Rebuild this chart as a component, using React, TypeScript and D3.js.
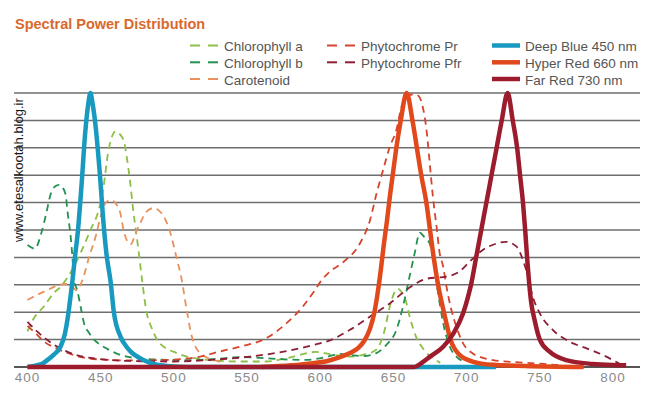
import React, { useEffect, useRef } from "react";
import * as d3 from "d3";

type Pt = [number, number];

// wavelength (nm), relative power
const chlorophyllA: Pt[] = [
  [400, 0.13], [404, 0.175], [411, 0.22], [418, 0.27], [423, 0.295], [430, 0.35],
  [437, 0.425], [443, 0.5], [449, 0.58], [452, 0.66], [455, 0.78], [458, 0.845],
  [460, 0.86], [463, 0.85], [466, 0.82], [468, 0.76], [470, 0.68], [472.5, 0.56],
  [475.5, 0.44], [478, 0.33], [481, 0.21], [485, 0.14], [488, 0.105], [494, 0.07],
  [500, 0.055], [509, 0.038], [520, 0.028], [545, 0.02], [563, 0.02], [577, 0.032],
  [586, 0.044], [597, 0.055], [608, 0.045], [620, 0.038], [629, 0.044], [638, 0.062],
  [644, 0.135], [647.5, 0.22], [651, 0.275], [653, 0.285], [656, 0.27], [658, 0.25],
  [661, 0.185], [665.5, 0.11], [671, 0.062], [677, 0.032], [682, 0.015],
];

const chlorophyllB: Pt[] = [
  [400, 0.445], [405, 0.432], [409.5, 0.49], [413, 0.565], [415.5, 0.625], [419, 0.66],
  [421.5, 0.665], [424, 0.655], [426, 0.63], [427.5, 0.56], [429.5, 0.475], [430.7, 0.4],
  [431.8, 0.317], [434, 0.28], [436.3, 0.22], [438.6, 0.16], [442, 0.125], [445.5, 0.1],
  [450, 0.08], [454.5, 0.066], [463.5, 0.044], [475, 0.032], [490, 0.027], [511, 0.025],
  [530, 0.03], [545, 0.036], [560, 0.033], [575, 0.028], [590, 0.026], [604, 0.036],
  [613, 0.048], [620, 0.044], [629, 0.04], [638, 0.05], [645, 0.08], [652, 0.135],
  [656.5, 0.22], [661, 0.33], [664.5, 0.415], [668, 0.49], [671, 0.475], [674.8, 0.45],
  [678, 0.366], [680.5, 0.27], [684, 0.16], [688.5, 0.074], [693, 0.038], [698, 0.02],
];

const carotenoid: Pt[] = [
  [400, 0.245], [406.5, 0.263], [416, 0.287], [421.5, 0.3], [427, 0.303], [431, 0.29],
  [433.5, 0.28], [437.5, 0.317], [442, 0.4], [446.5, 0.475], [450, 0.55], [453.5, 0.6],
  [457, 0.61], [460.5, 0.595], [463.5, 0.56], [466, 0.49], [470.5, 0.448], [474, 0.49],
  [477, 0.525], [481, 0.565], [486, 0.58], [490, 0.57], [493, 0.55], [497, 0.5],
  [502, 0.395], [505.3, 0.32], [508.7, 0.21], [512, 0.117], [518, 0.05], [527, 0.026],
  [535, 0.015],
];

const phytochromePr: Pt[] = [
  [400, 0.15], [406.5, 0.118], [412, 0.09], [418, 0.072], [427, 0.052], [436, 0.037],
  [448, 0.028], [470, 0.024], [490, 0.025], [500, 0.027], [518, 0.038], [531, 0.056],
  [545, 0.074], [563, 0.105], [577, 0.16], [588, 0.22], [595, 0.27], [601, 0.317],
  [606, 0.345], [616, 0.384], [627, 0.45], [634, 0.536], [638.5, 0.634], [643, 0.72],
  [647.5, 0.804], [652, 0.865], [655.5, 0.95], [660, 0.99], [664, 0.995], [667, 0.99],
  [670, 0.95], [672.6, 0.865], [674.8, 0.743], [677, 0.62], [679.5, 0.51], [681.6, 0.415],
  [684, 0.366], [686, 0.3], [689.6, 0.208], [693, 0.147], [697.6, 0.086], [704, 0.05],
  [710, 0.035], [718, 0.025], [732, 0.018], [750, 0.012], [765, 0.006],
];

const phytochromePfr: Pt[] = [
  [400, 0.165], [406.5, 0.13], [412, 0.105], [418, 0.082], [427, 0.056], [436, 0.04],
  [447.5, 0.03], [470, 0.022], [500, 0.02], [522, 0.025], [552, 0.038], [575, 0.056],
  [595, 0.08], [607, 0.098], [620, 0.135], [634, 0.184], [647.5, 0.232], [661, 0.29],
  [672.6, 0.322], [686, 0.33], [695, 0.348], [702, 0.384], [711, 0.427], [720, 0.45],
  [727, 0.457], [734, 0.44], [738.5, 0.39], [740, 0.366], [742, 0.33], [744, 0.28],
  [750, 0.196], [759, 0.135], [770.5, 0.092], [782, 0.068], [793, 0.044], [802, 0.019],
  [806, 0.008],
];

const deepBlue: Pt[] = [
  [400, 0], [406, 0.006], [410, 0.012], [413.5, 0.025], [418, 0.045], [422.5, 0.074],
  [425.5, 0.12], [427.5, 0.18], [429, 0.24], [430.6, 0.31], [432.4, 0.4], [434.5, 0.5],
  [437, 0.67], [439.5, 0.86], [441.5, 0.96], [443, 1.0], [444.5, 0.96], [446.5, 0.88],
  [449.5, 0.7], [452, 0.52], [454, 0.41], [456.8, 0.31], [459, 0.2], [463.6, 0.11],
  [467.5, 0.075], [470.5, 0.056], [479.5, 0.025], [487, 0.01], [497, 0.003], [510, 0],
  [720, 0],
];

const hyperRed: Pt[] = [
  [560, 0], [580, 0.006], [595, 0.014], [605, 0.022], [613, 0.035], [620, 0.05],
  [626, 0.07], [630, 0.095], [634, 0.14], [637, 0.2], [639.5, 0.28], [641.5, 0.36],
  [643.5, 0.45], [645.5, 0.53], [647.5, 0.62], [649.5, 0.7], [652, 0.8], [655, 0.9],
  [659, 1.0], [663, 0.9], [666, 0.8], [669, 0.7], [672.5, 0.6], [675, 0.5],
  [677.5, 0.4], [680.5, 0.3], [684.5, 0.2], [689, 0.1], [695, 0.045], [704, 0.02],
  [718, 0.008], [740, 0.004], [780, 0],
];

const farRed: Pt[] = [
  [400, 0], [664, 0], [670, 0.018], [675, 0.038], [684, 0.074], [691, 0.123],
  [697.6, 0.196], [701, 0.257], [703, 0.3], [706.5, 0.4], [710, 0.5], [713.5, 0.6],
  [717, 0.7], [720.5, 0.8], [724, 0.9], [728, 1.0], [731.5, 0.9], [734.5, 0.8],
  [736.5, 0.7], [738.5, 0.6], [740, 0.5], [741.3, 0.4], [742.5, 0.32], [744, 0.24],
  [746.5, 0.17], [750, 0.1], [756.7, 0.056], [768, 0.025], [786, 0.011], [800, 0.007],
  [809, 0.006],
];

const xTicks = [400, 450, 500, 550, 600, 650, 700, 750, 800];
const gridValues = d3.range(0, 11).map((i) => i / 10);

const dashedSeries = [
  { name: "Chlorophyll a", data: chlorophyllA, color: "#8cbf45" },
  { name: "Chlorophyll b", data: chlorophyllB, color: "#23914f" },
  { name: "Carotenoid", data: carotenoid, color: "#e8925e" },
  { name: "Phytochrome Pr", data: phytochromePr, color: "#d5452d" },
  { name: "Phytochrome Pfr", data: phytochromePfr, color: "#8c1f36" },
];

const solidSeries = [
  { name: "Deep Blue 450 nm", data: deepBlue, color: "#1899bf" },
  { name: "Hyper Red 660 nm", data: hyperRed, color: "#e1491c" },
  { name: "Far Red 730 nm", data: farRed, color: "#9c1c2d" },
];

const FONT = "'Liberation Sans', Arial, Helvetica, sans-serif";

function App() {
  const canvas = useRef<SVGSVGElement | null>(null);

  function drawChart() {
    const [width, height] = [656, 402];
    const svg = d3.select(canvas.current);
    svg.selectAll("*").remove();
    svg.attr("width", width).attr("height", height);

    const xScale = d3.scaleLinear().domain([400, 800]).range([27.5, 613]);
    const yScale = d3.scaleLinear().domain([0, 1]).range([367, 93]);

    // title
    svg
      .append("text")
      .attr("x", 15)
      .attr("y", 29)
      .attr("font-family", FONT)
      .attr("font-weight", "bold")
      .attr("font-size", 14.5)
      .attr("fill", "#d8692e")
      .text("Spectral Power Distribution");

    // horizontal grid
    svg
      .append("g")
      .selectAll("line")
      .data(gridValues)
      .join("line")
      .attr("x1", 14)
      .attr("x2", 640)
      .attr("y1", (d) => yScale(d))
      .attr("y2", (d) => yScale(d))
      .attr("stroke", (d) => (d === 0 ? "#555" : "#6e6e6e"))
      .attr("stroke-width", (d) => (d === 0 ? 2 : 1.5));

    // x tick labels
    svg
      .append("g")
      .selectAll("text")
      .data(xTicks)
      .join("text")
      .attr("x", (d) => xScale(d))
      .attr("y", 382)
      .attr("text-anchor", "middle")
      .attr("font-family", FONT)
      .attr("font-size", 13.5)
      .attr("letter-spacing", 1)
      .attr("fill", "#8a8a8a")
      .text((d) => d);

    const line = d3
      .line<Pt>()
      .x((d) => xScale(d[0]))
      .y((d) => yScale(d[1]))
      .curve(d3.curveMonotoneX);

    svg
      .append("g")
      .selectAll("path")
      .data(dashedSeries)
      .join("path")
      .attr("d", (d) => line(d.data))
      .attr("fill", "none")
      .attr("stroke", (d) => d.color)
      .attr("stroke-width", 1.8)
      .attr("stroke-dasharray", "7,5");

    svg
      .append("g")
      .selectAll("path")
      .data(solidSeries)
      .join("path")
      .attr("d", (d) => line(d.data))
      .attr("fill", "none")
      .attr("stroke", (d) => d.color)
      .attr("stroke-width", 4.5)
      .attr("stroke-linejoin", "round");

    // legend
    const rows = [45.5, 62.3, 79];
    const legendText = (g: d3.Selection<SVGGElement, unknown, null, undefined>) =>
      g
        .attr("font-family", FONT)
        .attr("font-size", 13.5)
        .attr("fill", "#555");

    const cols = [
      { items: dashedSeries.slice(0, 3), x0: 190, dashed: true },
      { items: dashedSeries.slice(3), x0: 327, dashed: true },
      { items: solidSeries, x0: 492, dashed: false },
    ];

    cols.forEach((col) => {
      const g = svg.append("g").call(legendText);
      col.items.forEach((item, i) => {
        const y = rows[i];
        if (col.dashed) {
          [0, 18].forEach((off) =>
            g
              .append("line")
              .attr("x1", col.x0 + off)
              .attr("x2", col.x0 + off + 10)
              .attr("y1", y)
              .attr("y2", y)
              .attr("stroke", item.color)
              .attr("stroke-width", 2)
          );
        } else {
          g.append("line")
            .attr("x1", col.x0)
            .attr("x2", col.x0 + 28)
            .attr("y1", y)
            .attr("y2", y)
            .attr("stroke", item.color)
            .attr("stroke-width", 4.5);
        }
        g.append("text")
          .attr("x", col.dashed ? col.x0 + 34 : col.x0 + 33)
          .attr("y", y + 5.5)
          .text(item.name);
      });
    });

    // vertical site mark on the left edge
    svg
      .append("text")
      .attr("transform", "translate(23,242) rotate(-90)")
      .attr("font-family", FONT)
      .attr("font-size", 13)
      .attr("fill", "#1a1a1a")
      .text("www.etesalkootah.blog.ir");
  }

  useEffect(() => {
    drawChart();
  }, []);

  return (
    <svg
      ref={canvas}
      style={{ position: "absolute", left: 0, top: 0, background: "#fff" }}
    ></svg>
  );
}

export default App;
